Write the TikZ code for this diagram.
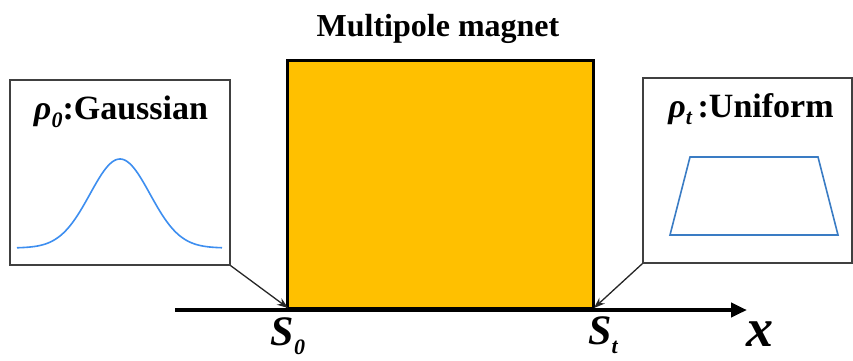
\documentclass[tikz,border=0pt]{standalone}
\usepackage{fontspec}
\setmainfont{Liberation Serif}[UprightFont=*, BoldFont=* Bold, ItalicFont=* Italic, BoldItalicFont=* Bold Italic]
\usetikzlibrary{arrows.meta}
\definecolor{magorange}{HTML}{FFC000}
\definecolor{gaussblue}{HTML}{3D8EF0}
\definecolor{trapblue}{HTML}{3A7CC4}
\definecolor{boxgray}{HTML}{404040}
\newcommand{\sublow}[1]{\raisebox{-0.22em}{\fontsize{22}{24}\selectfont\itshape #1}}
\begin{document}
\begin{tikzpicture}[x=1pt,y=-1pt,
  panel/.style={draw=boxgray, line width=1.2pt, fill=white, inner sep=0pt},
  ptr/.style={draw=black!85, line width=1.3pt, -{Stealth[length=11pt,width=8pt]}},
  lbl/.style={font=\fontsize{34}{36}\selectfont\bfseries, inner sep=0pt},
  slbl/.style={font=\fontsize{42}{44}\selectfont\bfseries\itshape, inner sep=0pt}]
\useasboundingbox (0,0) rectangle (853,360);
% magnet
\node[draw=black, line width=3pt, fill=magorange, minimum width=306pt, minimum height=248pt, inner sep=0pt] (mag) at (440,184) {};
\node[font=\fontsize{32}{34}\selectfont\bfseries, inner sep=0pt] (title) at (438,29) {Multipole magnet};
% axis
\coordinate (axs) at (175,310);
\coordinate (axe) at (747,310);
\draw[line width=4pt, -{Triangle[length=16pt,width=14pt]}] (axs) -- (axe);
% left panel
\node[panel, minimum width=220pt, minimum height=185pt] (lbox) at (120,172.5) {};
\node[lbl] (ltxt) at (121,112) {\itshape ρ\sublow{0}\upshape :Gaussian};
\draw[gaussblue, line width=1.6pt] plot[domain=17:222, samples=120] (\x, {248-89*exp(-((\x-120)^2)/1800)});
% right panel
\node[panel, minimum width=209pt, minimum height=185pt] (rbox) at (747.5,170.5) {};
\node[lbl] (rtxt) at (751,109) {\itshape ρ\sublow{t}\upshape\,:Uniform};
\coordinate (t1) at (690,157);
\coordinate (t2) at (818,157);
\coordinate (t3) at (838,235);
\coordinate (t4) at (670,235);
\draw[trapblue, line width=1.6pt] (t1) -- (t2) -- (t3) -- (t4) -- cycle;
% pointers
\coordinate (m0) at (288,308);
\coordinate (mt) at (594,308);
\draw[ptr] (lbox.south east) -- (m0);
\draw[ptr] (rbox.south west) -- (mt);
% labels
\node[slbl] (s0) at (288,336) {S\sublow{0}};
\node[slbl] (st) at (603,335) {S\sublow{t}};
\node[font=\fontsize{54}{56}\selectfont\bfseries\itshape, inner sep=0pt] (xl) at (760,334) {x};
\end{tikzpicture}
\end{document}
